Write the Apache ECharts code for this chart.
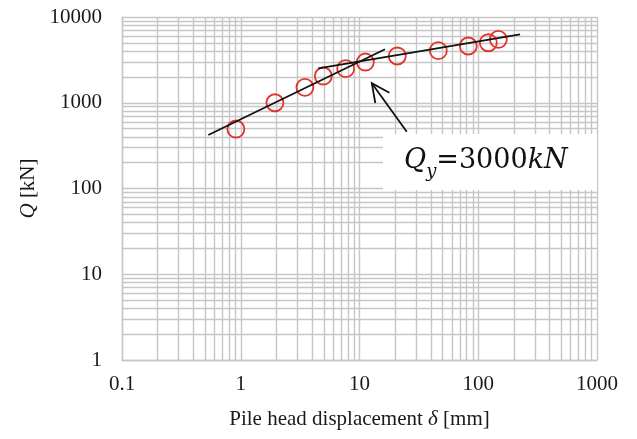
<!DOCTYPE html>
<html><head><meta charset="utf-8">
<script src="https://cdn.jsdelivr.net/npm/echarts@6/dist/echarts.min.js"></script>
<style>html,body{margin:0;padding:0;background:#fff}#c{width:637px;height:439px}</style>
</head><body><div id="c"></div>
<script>
// measured data (pile head displacement [mm], load Q [kN])
const displacement = [0.91, 1.94, 3.47, 4.96, 7.65, 11.2, 20.8, 46.1, 82.4, 121.6, 147.6];
const load = [494, 1000, 1515, 2050, 2495, 2985, 3510, 4045, 4590, 5010, 5495];
// bilinear fit lines
const fitLowX = [0.533, 16.4];
const fitLowY = [421, 4200];
const fitHighX = [4.5, 225];
const fitHighY = [2520, 6280];
// arrow: tail then tip
const arrowX = [25, 12.7];
const arrowY = [459, 1686];
const xTicks = [0.1, 1, 10, 100, 1000];
const yTicks = [1, 10, 100, 1000, 10000];
const minorMultiples = [2, 3, 4, 5, 6, 7, 8, 9];

const GRID = '#c6c6c6';
const GW = 1.4;
const FONT = 'Liberation Serif';
const TXT = '#1a1a1a';

const minorLines = [];
for (let i = 0; i < xTicks.length - 1; i++)
  minorMultiples.forEach(m => minorLines.push({ xAxis: +(xTicks[i] * m).toPrecision(3) }));
for (let i = 0; i < yTicks.length - 1; i++)
  minorMultiples.forEach(m => minorLines.push({ yAxis: +(yTicks[i] * m).toPrecision(3) }));

const fmt = v => String(+Number(v).toPrecision(3));
const chart = echarts.init(document.getElementById('c'), null, { renderer: 'canvas' });
chart.setOption({
  animation: false,
  backgroundColor: '#fff',
  grid: { left: 122, right: 40, top: 17, bottom: 79, containLabel: false, outerBoundsMode: 'none' },
  xAxis: {
    type: 'log', logBase: 10, min: 0.1, max: 1000,
    axisLine: { show: true, onZero: false, lineStyle: { color: GRID, width: GW } },
    axisTick: { show: false },
    splitLine: { show: true, lineStyle: { color: GRID, width: GW } },
    axisLabel: { formatter: fmt, fontFamily: FONT, fontSize: 21, color: TXT, margin: 14, hideOverlap: false },
    name: 'Pile head displacement {i|δ} [mm]', nameLocation: 'middle', nameGap: 49,
    nameTextStyle: { fontFamily: FONT, fontSize: 21, color: TXT,
      rich: { i: { fontFamily: FONT, fontSize: 21, fontStyle: 'italic', color: TXT } } }
  },
  yAxis: {
    type: 'log', logBase: 10, min: 1, max: 10000,
    axisLine: { show: true, onZero: false, lineStyle: { color: GRID, width: GW } },
    axisTick: { show: false },
    splitLine: { show: true, lineStyle: { color: GRID, width: GW } },
    axisLabel: { formatter: fmt, fontFamily: FONT, fontSize: 21, color: TXT, margin: 20, hideOverlap: false },
    name: '{i|Q} [kN]', nameLocation: 'middle', nameGap: 83,
    nameTextStyle: { fontFamily: FONT, fontSize: 21, color: TXT,
      rich: { i: { fontFamily: FONT, fontSize: 21, fontStyle: 'italic', color: TXT } } }
  },
  series: [
    {
      type: 'line', data: [], silent: true, z: 0,
      markLine: { silent: true, z: 0, symbol: ['none', 'none'], label: { show: false },
        lineStyle: { color: GRID, width: GW, type: 'solid' }, data: minorLines, animation: false }
    },
    {
      type: 'scatter', data: displacement.map((x, i) => [x, load[i]]),
      symbol: 'circle', symbolSize: 17, z: 3,
      itemStyle: { color: 'rgba(255,255,255,0)', borderColor: '#e2352a', borderWidth: 1.8, opacity: 1 }
    },
    { type: 'line', data: fitLowX.map((x, i) => [x, fitLowY[i]]), symbol: 'none', z: 4,
      lineStyle: { color: '#111', width: 1.8 } },
    { type: 'line', data: fitHighX.map((x, i) => [x, fitHighY[i]]), symbol: 'none', z: 4,
      lineStyle: { color: '#111', width: 1.8 } },
    {
      type: 'custom', z: 4, silent: true,
      data: [[arrowX[0], arrowY[0], arrowX[1], arrowY[1]]],
      renderItem: (params, api) => {
        const a = api.coord([api.value(0), api.value(1)]);
        const b = api.coord([api.value(2), api.value(3)]);
        const ang = Math.atan2(a[1] - b[1], a[0] - b[0]);
        const L = 20, w = 0.45;
        const p1 = [b[0] + L * Math.cos(ang + w), b[1] + L * Math.sin(ang + w)];
        const p2 = [b[0] + L * Math.cos(ang - w), b[1] + L * Math.sin(ang - w)];
        const st = { stroke: '#111', lineWidth: 1.8, fill: null };
        return { type: 'group', children: [
          { type: 'line', shape: { x1: a[0], y1: a[1], x2: b[0], y2: b[1] }, style: st },
          { type: 'polyline', shape: { points: [p1, b, p2] }, style: st }
        ] };
      }
    }
  ],
  graphic: [
    { type: 'rect', left: 383, top: 134, shape: { width: 214, height: 56 }, style: { fill: '#fff' }, z: 10 },
    { type: 'text', z: 11, x: 404, y: 161,
      style: { text: '{q|Q}{s|y}{n|=3000}{q|kN}', verticalAlign: 'middle', align: 'left',
        rich: {
          q: { fontFamily: 'DejaVu Serif', fontStyle: 'italic', fontSize: 27, lineHeight: 40, verticalAlign: 'middle', fill: '#111' },
          s: { fontFamily: 'DejaVu Serif', fontStyle: 'italic', fontSize: 18, lineHeight: 20, verticalAlign: 'bottom', fill: '#111' },
          n: { fontFamily: 'DejaVu Serif', fontSize: 27, lineHeight: 40, verticalAlign: 'middle', fill: '#111' }
        } } }
  ]
});
</script></body></html>
